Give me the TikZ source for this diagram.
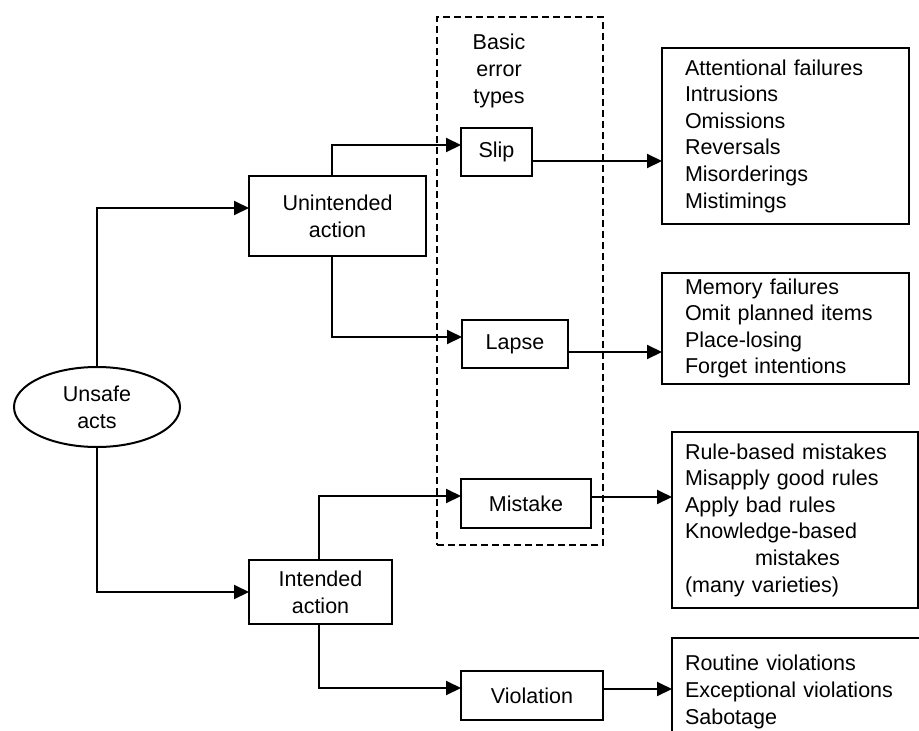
\documentclass[tikz,border=0pt]{standalone}
\usepackage{fontspec}
\setmainfont{Liberation Sans}
\usetikzlibrary{arrows.meta,calc,shapes.geometric}
\begin{document}
\begin{tikzpicture}[x=1pt,y=-1pt,
  every node/.style={font=\fontsize{21.5}{27}\selectfont, text=black, outer sep=0pt},
  flow/.style={line width=2pt, draw=black, -{Triangle[length=15pt,width=14pt]}},
  box/.style={draw=black, line width=2pt, rectangle, inner sep=0pt, align=center},
  listbox/.style={draw=black, line width=2pt, rectangle, inner ysep=0pt, align=left,
    anchor=north west, font=\fontsize{21.5}{26.6}\selectfont},
  group/.style={draw=black, line width=2pt, dash pattern=on 7pt off 4pt, inner sep=0pt}
]
\clip (0,0) rectangle (919,731);
\fill[white] (0,0) rectangle (919,731);

% the group of basic error types
\node[group, minimum width=166pt, minimum height=528pt] (errtypes) at (520,281) {};
\node[align=center] (errlabel) at (499,71) {Basic\\error\\types};

% root and the two kinds of action
\node[draw=black, ellipse, line width=2pt, minimum width=166pt, minimum height=80pt,
  inner sep=0pt, align=center] (ua) at (97,407) {Unsafe\\acts};
\node[box, minimum width=177pt, minimum height=80pt] (uni) at (337.5,216) {Unintended\\action};
\node[box, minimum width=143pt, minimum height=64pt] (int) at (320.5,592) {Intended\\action};

% basic error types
\node[box, minimum width=71pt, minimum height=48pt] (slip) at (496.5,152) {Slip};
\node[box, minimum width=106pt, minimum height=48pt] (lapse) at (515,344) {Lapse};
\node[box, minimum width=130pt, minimum height=49pt] (mistake) at (526,503.5) {Mistake};
\node[box, minimum width=142pt, minimum height=49pt] (viol) at (532,695.5) {Violation};

% varieties of each error type
\node[listbox, inner xsep=23pt, text width=201pt, minimum height=176pt] (slips) at (662,48)
  {Attentional failures\\Intrusions\\Omissions\\Reversals\\Misorderings\\Mistimings};
\node[listbox, inner xsep=23pt, text width=201pt, minimum height=111pt] (lapses) at (662,273)
  {Memory failures\\Omit planned items\\Place-losing\\Forget intentions};
\node[listbox, inner xsep=13pt, text width=220pt, minimum height=176pt] (mistakes) at (672,432)
  {Rule-based mistakes\\Misapply good rules\\Apply bad rules\\Knowledge-based\\\hspace*{70pt}mistakes\\(many varieties)};
\node[listbox, inner xsep=13pt, text width=234pt, minimum height=108pt] (viols) at (672,638)
  {Routine violations\\Exceptional violations\\Sabotage};

% branches from the root and from each kind of action
\draw[flow] (ua.north) |- ($(uni.west)+(0,-8)$);
\draw[flow] (ua.south) |- (int.west);
\draw[flow] ($(uni.north)+(-5.5,0)$) |- ($(slip.west)+(0,-7)$);
\draw[flow] ($(uni.south)+(-5.5,0)$) |- ($(lapse.west)+(0,-7)$);
\draw[flow] ($(int.north)+(-1.5,0)$) |- ($(mistake.west)+(0,-7.5)$);
\draw[flow] ($(int.south)+(-1.5,0)$) |- ($(viol.west)+(0,-7.5)$);

% each error type leads to its list of varieties
\draw[flow] ($(slip.east)+(0,9)$) coordinate (slipout) -- (slipout -| slips.west);
\draw[flow] ($(lapse.east)+(0,8)$) coordinate (lapseout) -- (lapseout -| lapses.west);
\draw[flow] ($(mistake.east)+(0,-6.5)$) coordinate (mistakeout) -- (mistakeout -| mistakes.west);
\draw[flow] ($(viol.east)+(0,-6.5)$) coordinate (violout) -- (violout -| viols.west);
\end{tikzpicture}
\end{document}
